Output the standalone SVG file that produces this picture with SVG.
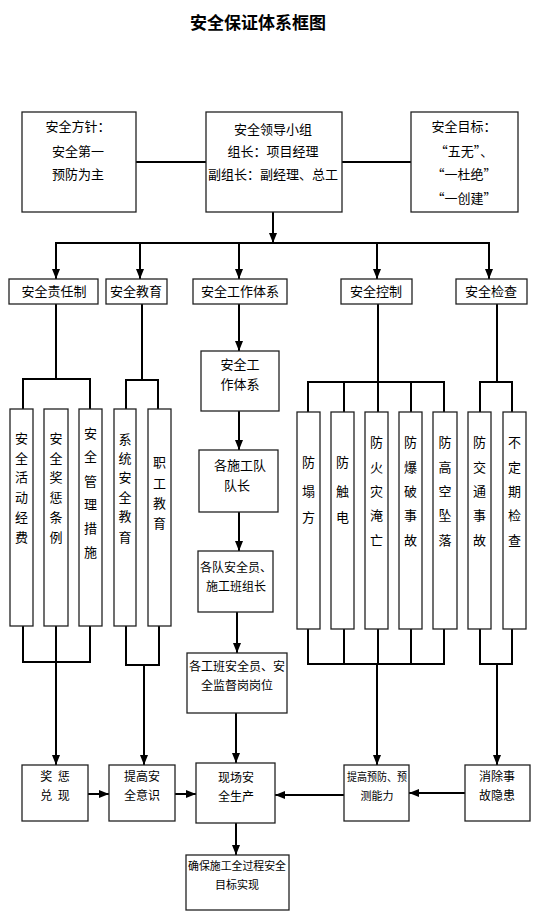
<svg xmlns="http://www.w3.org/2000/svg" width="553" height="923" viewBox="0 0 553 923">
<style>
.b{fill:#fff;stroke:#222;stroke-width:1.3}
.t{font-family:"Noto Sans CJK SC","Noto Sans CJK JP",sans-serif;font-size:13px;fill:#000;text-anchor:middle}
.m{font-family:"Noto Sans CJK SC","Noto Sans CJK JP",sans-serif;font-size:12px;fill:#000;text-anchor:middle}
.v{font-family:"Noto Sans CJK SC","Noto Sans CJK JP",sans-serif;font-size:13px;fill:#000;text-anchor:middle}
.s{font-family:"Noto Sans CJK SC","Noto Sans CJK JP",sans-serif;font-size:11px;fill:#000;text-anchor:middle}
.c{fill:none;stroke:#000;stroke-width:2}
.a{fill:none;stroke:#000;stroke-width:2;marker-end:url(#ah)}
</style>
<defs>
<marker id="ah" markerUnits="userSpaceOnUse" markerWidth="10" markerHeight="8" refX="10" refY="4" orient="auto">
<path d="M0,0 L10,4 L0,8 z" fill="#000"/>
</marker>
</defs>
<text x="258" y="29" style="font-family:'Noto Sans CJK SC',sans-serif;font-size:17px;font-weight:bold;text-anchor:middle">安全保证体系框图</text>

<g id="connectors">
<line class="c" x1="136" y1="162" x2="206" y2="162"/>
<line class="c" x1="342" y1="162" x2="411" y2="162"/>
<line class="a" x1="273" y1="212" x2="273" y2="243"/>
<line class="c" x1="55" y1="243" x2="490" y2="243"/>
<line class="a" x1="56" y1="243" x2="56" y2="279"/>
<line class="a" x1="140" y1="243" x2="140" y2="279"/>
<line class="a" x1="239" y1="243" x2="239" y2="279"/>
<line class="a" x1="377" y1="243" x2="377" y2="279"/>
<line class="a" x1="489" y1="243" x2="489" y2="279"/>
<!-- 安全责任制 -->
<polyline class="c" points="56,304 56,379"/>
<polyline class="c" points="23,409 23,379 90,379 90,409"/>
<polyline class="c" points="23,626 23,662 90,662 90,626"/>
<line class="c" x1="56" y1="626" x2="56" y2="662"/>
<line class="a" x1="56" y1="662" x2="56" y2="765"/>
<!-- 安全教育 -->
<polyline class="c" points="142,304 142,380"/>
<polyline class="c" points="126,409 126,380 158,380 158,409"/>
<polyline class="c" points="126,626 126,665 159,665 159,626"/>
<line class="a" x1="144" y1="665" x2="144" y2="765"/>
<!-- 工作体系 -->
<line class="a" x1="239" y1="304" x2="239" y2="351"/>
<line class="a" x1="239" y1="411" x2="239" y2="450"/>
<line class="a" x1="239" y1="512" x2="239" y2="551"/>
<line class="a" x1="237" y1="612" x2="237" y2="653"/>
<line class="a" x1="236" y1="713" x2="236" y2="763"/>
<line class="a" x1="236" y1="823" x2="236" y2="855"/>
<!-- 安全控制 -->
<polyline class="c" points="378,304 378,382"/>
<polyline class="c" points="308,412 308,382 444,382 444,412"/>
<line class="c" x1="344" y1="382" x2="344" y2="412"/>
<line class="c" x1="378" y1="382" x2="378" y2="412"/>
<line class="c" x1="411" y1="382" x2="411" y2="412"/>
<polyline class="c" points="308,629 308,664 444,664 444,629"/>
<line class="c" x1="344" y1="629" x2="344" y2="664"/>
<line class="c" x1="378" y1="629" x2="378" y2="664"/>
<line class="c" x1="411" y1="629" x2="411" y2="664"/>
<line class="a" x1="377" y1="664" x2="377" y2="765"/>
<!-- 安全检查 -->
<polyline class="c" points="497,304 497,382"/>
<polyline class="c" points="480,412 480,382 512,382 512,412"/>
<polyline class="c" points="480,629 480,664 512,664 512,629"/>
<line class="a" x1="497" y1="664" x2="497" y2="765"/>
<!-- bottom row -->
<line class="a" x1="88" y1="794" x2="109" y2="794"/>
<line class="a" x1="175" y1="794" x2="196" y2="794"/>
<line class="a" x1="344" y1="795" x2="275" y2="795"/>
<line class="a" x1="465" y1="793" x2="409" y2="793"/>
</g>

<g id="n-fangzhen"><rect class="b" x="22" y="112" width="114" height="100"/>
<text class="t" x="78" y="131">安全方针：</text><text class="t" x="78" y="156">安全第一</text><text class="t" x="78" y="179">预防为主</text></g>
<g id="n-lingdao"><rect class="b" x="206" y="112" width="136" height="100"/>
<text class="t" x="273" y="134">安全领导小组</text><text class="t" x="273" y="156">组长：项目经理</text><text class="t" x="273" y="179">副组长：副经理、总工</text></g>
<g id="n-mubiao"><rect class="b" x="411" y="112" width="107" height="100"/>
<text class="t" x="464" y="131">安全目标：</text><text class="t" x="464" y="156">“五无”、</text><text class="t" x="464" y="179">“一杜绝”</text><text class="t" x="464" y="203">“一创建”</text></g>

<g id="n-zerenzhi"><rect class="b" x="9" y="279" width="89" height="25"/><text class="t" x="54" y="296">安全责任制</text></g>
<g id="n-jiaoyu"><rect class="b" x="106" y="279" width="61" height="25"/><text class="t" x="136" y="296">安全教育</text></g>
<g id="n-gongzuo"><rect class="b" x="193" y="279" width="94" height="25"/><text class="t" x="240" y="296">安全工作体系</text></g>
<g id="n-kongzhi"><rect class="b" x="341" y="279" width="71" height="25"/><text class="t" x="376" y="296">安全控制</text></g>
<g id="n-jiancha"><rect class="b" x="456" y="279" width="71" height="25"/><text class="t" x="491" y="296">安全检查</text></g>

<g id="n-jingfei"><rect class="b" x="10" y="409" width="23" height="217"/>
<text class="v" x="21.5"><tspan x="21.5" y="443">安</tspan><tspan x="21.5" y="463">全</tspan><tspan x="21.5" y="482">活</tspan><tspan x="21.5" y="502">动</tspan><tspan x="21.5" y="522">经</tspan><tspan x="21.5" y="542">费</tspan></text></g>
<g id="n-jiangcheng"><rect class="b" x="44" y="409" width="24" height="217"/>
<text class="v" x="56"><tspan x="56" y="443">安</tspan><tspan x="56" y="463">全</tspan><tspan x="56" y="482">奖</tspan><tspan x="56" y="502">惩</tspan><tspan x="56" y="522">条</tspan><tspan x="56" y="542">例</tspan></text></g>
<g id="n-cuoshi"><rect class="b" x="79" y="409" width="23" height="217"/>
<text class="v" x="90.5"><tspan x="90.5" y="438">安</tspan><tspan x="90.5" y="461">全</tspan><tspan x="90.5" y="486">管</tspan><tspan x="90.5" y="509">理</tspan><tspan x="90.5" y="533">措</tspan><tspan x="90.5" y="557">施</tspan></text></g>
<g id="n-xitong"><rect class="b" x="114" y="409" width="22" height="217"/>
<text class="v" x="125"><tspan x="125" y="444">系</tspan><tspan x="125" y="463">统</tspan><tspan x="125" y="482">安</tspan><tspan x="125" y="502">全</tspan><tspan x="125" y="521">教</tspan><tspan x="125" y="542">育</tspan></text></g>
<g id="n-zhigong"><rect class="b" x="148" y="409" width="23" height="217"/>
<text class="v" x="159.5"><tspan x="159.5" y="467">职</tspan><tspan x="159.5" y="488">工</tspan><tspan x="159.5" y="508">教</tspan><tspan x="159.5" y="528">育</tspan></text></g>

<g id="n-gz2"><rect class="b" x="201" y="351" width="78" height="60"/>
<text class="t" x="240" y="369">安全工</text><text class="t" x="240" y="389">作体系</text></g>
<g id="n-duizhang"><rect class="b" x="199" y="450" width="79" height="62"/>
<text class="t" x="240" y="470">各施工队</text><text class="t" x="237" y="490">队长</text></g>
<g id="n-anquanyuan"><rect class="b" x="198" y="551" width="75" height="61"/>
<text class="m" x="236" y="572">各队安全员、</text><text class="m" x="236" y="591">施工班组长</text></g>
<g id="n-gongban"><rect class="b" x="187" y="653" width="100" height="60"/>
<text class="m" x="237" y="671">各工班安全员、安</text><text class="m" x="237" y="690">全监督岗岗位</text></g>

<g id="n-tafang"><rect class="b" x="297" y="412" width="23" height="217"/>
<text class="v" x="308.5"><tspan x="308.5" y="467">防</tspan><tspan x="308.5" y="496">塌</tspan><tspan x="308.5" y="522">方</tspan></text></g>
<g id="n-chudian"><rect class="b" x="331" y="412" width="23" height="217"/>
<text class="v" x="342.5"><tspan x="342.5" y="467">防</tspan><tspan x="342.5" y="496">触</tspan><tspan x="342.5" y="522">电</tspan></text></g>
<g id="n-huozai"><rect class="b" x="365" y="412" width="23" height="217"/>
<text class="v" x="376.5"><tspan x="376.5" y="447">防</tspan><tspan x="376.5" y="472">火</tspan><tspan x="376.5" y="496">灾</tspan><tspan x="376.5" y="520">淹</tspan><tspan x="376.5" y="545">亡</tspan></text></g>
<g id="n-baopo"><rect class="b" x="399" y="412" width="23" height="217"/>
<text class="v" x="410.5"><tspan x="410.5" y="447">防</tspan><tspan x="410.5" y="472">爆</tspan><tspan x="410.5" y="496">破</tspan><tspan x="410.5" y="520">事</tspan><tspan x="410.5" y="545">故</tspan></text></g>
<g id="n-gaokong"><rect class="b" x="433" y="412" width="24" height="217"/>
<text class="v" x="445"><tspan x="445" y="447">防</tspan><tspan x="445" y="472">高</tspan><tspan x="445" y="496">空</tspan><tspan x="445" y="520">坠</tspan><tspan x="445" y="545">落</tspan></text></g>
<g id="n-jiaotong"><rect class="b" x="468" y="412" width="23" height="217"/>
<text class="v" x="479.5"><tspan x="479.5" y="447">防</tspan><tspan x="479.5" y="472">交</tspan><tspan x="479.5" y="496">通</tspan><tspan x="479.5" y="520">事</tspan><tspan x="479.5" y="545">故</tspan></text></g>
<g id="n-budingqi"><rect class="b" x="503" y="412" width="23" height="217"/>
<text class="v" x="514.5"><tspan x="514.5" y="447">不</tspan><tspan x="514.5" y="472">定</tspan><tspan x="514.5" y="496">期</tspan><tspan x="514.5" y="520">检</tspan><tspan x="514.5" y="545">查</tspan></text></g>

<g id="n-duixian"><rect class="b" x="22" y="765" width="66" height="56"/>
<text class="m" x="55" y="781" xml:space="preserve">奖  惩</text><text class="m" x="55" y="800" xml:space="preserve">兑  现</text></g>
<g id="n-yishi"><rect class="b" x="109" y="765" width="66" height="56"/>
<text class="m" x="142" y="781">提高安</text><text class="m" x="142" y="800">全意识</text></g>
<g id="n-xianchang"><rect class="b" x="196" y="763" width="79" height="60"/>
<text class="m" x="236" y="782">现场安</text><text class="m" x="236" y="801">全生产</text></g>
<g id="n-yufang"><rect class="b" x="344" y="765" width="65" height="56"/>
<text class="s" x="377" y="781" textLength="60" lengthAdjust="spacingAndGlyphs">提高预防、预</text><text class="s" x="377" y="800">测能力</text></g>
<g id="n-xiaochu"><rect class="b" x="465" y="765" width="65" height="56"/>
<text class="m" x="497" y="781">消除事</text><text class="m" x="497" y="800">故隐患</text></g>
<g id="n-queBao"><rect class="b" x="186" y="855" width="103" height="55"/>
<text class="s" x="237" y="870" textLength="98" lengthAdjust="spacingAndGlyphs">确保施工全过程安全</text><text class="s" x="237" y="889">目标实现</text></g>
</svg>
